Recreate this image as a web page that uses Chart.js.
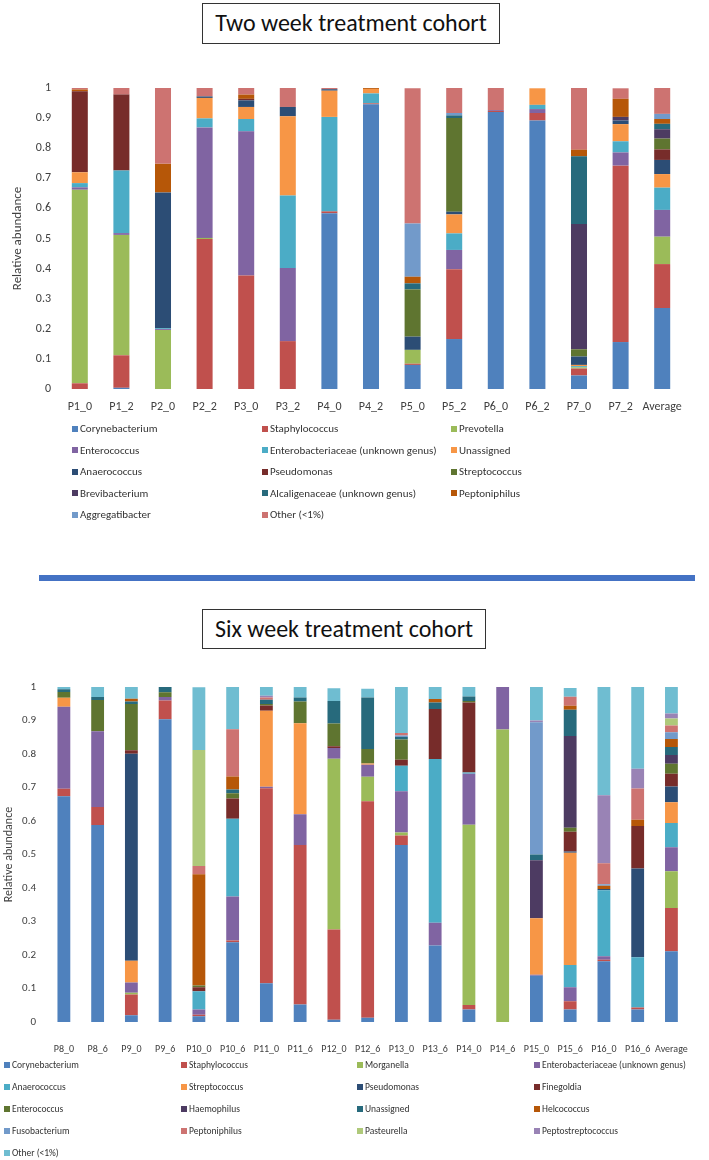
<!DOCTYPE html>
<html>
<head>
<meta charset="utf-8">
<script src="https://cdn.jsdelivr.net/npm/chart.js@4.4.1/dist/chart.umd.min.js"></script>
<style>
    body { margin: 0; background: #fff; font-family: Carlito, Lato, "Open Sans", sans-serif; }
    #page { position: relative; width: 709px; height: 1160px; overflow: hidden; }
    .title-box { position: absolute; border: 1.5px solid #333; font-size: 24px; color: #111; box-sizing: border-box; text-align: center; }
    .chart-box { position: absolute; left: 0; width: 709px; }
    .legend { position: absolute; display: grid; color: #333; }
    .legend div { white-space: nowrap; display: flex; align-items: center; }
    .legend span { display: inline-block; flex: 0 0 6px; width: 6px; height: 6px; margin-right: 2px; }
    #divider { position: absolute; left: 39px; width: 656px; top: 575px; height: 6px; background: #4472C4; }
</style>
</head>
<body>
<div id="page">
    <div class="title-box" style="left:202px; top:3px; width:298px; height:41px; line-height:38px;">Two week treatment cohort</div>
    <div class="chart-box" style="top:60px; height:360px;"><canvas id="twoWeekChart"></canvas></div>
    <div class="legend" id="twoWeekLegend" style="left:72px; top:418px; grid-template-columns:190px 189px 200px; grid-auto-rows:21.5px; font-size:11px;"></div>

    <div id="divider"></div>

    <div class="title-box" style="left:202px; top:609px; width:284px; height:40px; line-height:37px;">Six week treatment cohort</div>
    <div class="chart-box" style="top:660px; height:400px;"><canvas id="sixWeekChart"></canvas></div>
    <div class="legend" id="sixWeekLegend" style="left:4px; top:1054px; grid-template-columns:177px 176px 177px 180px; grid-auto-rows:22px; font-size:9.5px;"></div>
</div>

<script>
// two week cohort
const twoWeekLabels = ['P1_0', 'P1_2', 'P2_0', 'P2_2', 'P3_0', 'P3_2', 'P4_0', 'P4_2', 'P5_0', 'P5_2', 'P6_0', 'P6_2', 'P7_0', 'P7_2', 'Average'];

const tw_corynebacterium   = [0, 0.004, 0, 0, 0, 0, 0.584, 0.946, 0.080, 0.166, 0.920, 0.892, 0.045, 0.156, 0.269];
const tw_staphylococcus    = [0.019, 0.108, 0, 0.498, 0.377, 0.159, 0.006, 0.003, 0.004, 0.232, 0.004, 0.025, 0.023, 0.586, 0.146];
const tw_prevotella        = [0.643, 0.400, 0.196, 0.004, 0, 0, 0, 0, 0.046, 0, 0, 0, 0.004, 0, 0.091];
const tw_enterococcus      = [0.008, 0.006, 0.003, 0.367, 0.479, 0.243, 0, 0, 0, 0.064, 0.003, 0.013, 0, 0.044, 0.089];
const tw_enterobacteriaceae = [0.014, 0.208, 0.003, 0.030, 0.041, 0.241, 0.314, 0.033, 0, 0.055, 0, 0.014, 0.004, 0.037, 0.074];
const tw_unassigned        = [0.036, 0, 0, 0.068, 0.040, 0.263, 0.087, 0.015, 0, 0.063, 0, 0.055, 0.004, 0.057, 0.045];
const tw_anaerococcus      = [0, 0, 0.451, 0.005, 0.022, 0.031, 0.005, 0, 0.044, 0.009, 0, 0, 0.028, 0.012, 0.047];
const tw_pseudomonas       = [0.269, 0.252, 0, 0, 0.005, 0, 0, 0, 0, 0, 0, 0, 0, 0, 0.035];
const tw_streptococcus     = [0, 0, 0, 0, 0, 0, 0, 0, 0.157, 0.311, 0, 0, 0.024, 0, 0.036];
const tw_brevibacterium    = [0, 0, 0, 0, 0, 0, 0, 0, 0, 0, 0, 0, 0.416, 0.012, 0.031];
const tw_alcaligenaceae    = [0, 0, 0, 0, 0, 0, 0, 0, 0.020, 0.009, 0, 0, 0.225, 0, 0.018];
const tw_peptoniphilus     = [0.006, 0, 0.095, 0, 0.014, 0, 0, 0.003, 0.022, 0, 0, 0, 0.022, 0.060, 0.016];
const tw_aggregatibacter   = [0, 0, 0, 0, 0, 0, 0, 0, 0.177, 0.008, 0, 0, 0, 0, 0.017];
const tw_other             = [0.005, 0.022, 0.252, 0.028, 0.022, 0.063, 0.004, 0.003, 0.449, 0.083, 0.073, 0, 0.205, 0.035, 0.086];

// six week cohort
const sixWeekLabels = ['P8_0', 'P8_6', 'P9_0', 'P9_6', 'P10_0', 'P10_6', 'P11_0', 'P11_6', 'P12_0', 'P12_6', 'P13_0', 'P13_6', 'P14_0', 'P14_6', 'P15_0', 'P15_6', 'P16_0', 'P16_6', 'Average'];

const sw_corynebacterium   = [0.674, 0.588, 0.020, 0.904, 0.017, 0.238, 0.116, 0.052, 0.007, 0.013, 0.528, 0.228, 0.037, 0, 0.138, 0.037, 0.181, 0.037, 0.211];
const sw_staphylococcus    = [0.022, 0.054, 0.062, 0.056, 0.005, 0.005, 0.582, 0.476, 0.269, 0.646, 0.029, 0, 0.014, 0, 0, 0.025, 0.005, 0.006, 0.129];
const sw_morganella        = [0, 0, 0.005, 0, 0, 0, 0, 0, 0.510, 0.073, 0.009, 0, 0.538, 0.873, 0, 0, 0, 0, 0.110];
const sw_enterobacteriaceae = [0.245, 0.226, 0.031, 0.010, 0.015, 0.132, 0.004, 0.092, 0.032, 0.036, 0.123, 0.068, 0.152, 0.127, 0.003, 0.042, 0.010, 0, 0.072];
const sw_anaerococcus      = [0, 0, 0, 0, 0.055, 0.232, 0, 0, 0, 0, 0.076, 0.489, 0.004, 0, 0, 0.066, 0.197, 0.150, 0.072];
const sw_streptococcus     = [0.027, 0, 0.065, 0, 0, 0, 0.227, 0.272, 0, 0.004, 0, 0, 0, 0, 0.169, 0.335, 0, 0, 0.062];
const sw_pseudomonas       = [0, 0, 0.618, 0, 0, 0, 0, 0, 0, 0, 0, 0, 0, 0, 0, 0.004, 0.004, 0.265, 0.047];
const sw_finegoldia        = [0, 0, 0.010, 0, 0.012, 0.060, 0.016, 0, 0.005, 0, 0.018, 0.149, 0.209, 0, 0, 0.059, 0, 0.127, 0.038];
const sw_enterococcus      = [0.017, 0.093, 0.138, 0.014, 0.005, 0.016, 0.004, 0.065, 0.068, 0.043, 0.060, 0, 0.004, 0, 0, 0.012, 0, 0, 0.030];
const sw_haemophilus       = [0, 0, 0, 0, 0, 0, 0, 0, 0, 0, 0, 0, 0, 0, 0.173, 0.274, 0, 0, 0.026];
const sw_unassigned        = [0.008, 0.009, 0.008, 0.016, 0, 0.011, 0.013, 0.012, 0.067, 0.154, 0.008, 0.020, 0.014, 0, 0.017, 0.078, 0, 0, 0.024];
const sw_helcococcus       = [0, 0, 0.008, 0, 0.332, 0.039, 0, 0, 0, 0, 0, 0.010, 0, 0, 0, 0.012, 0.010, 0.019, 0.024];
const sw_fusobacterium     = [0, 0, 0, 0, 0, 0, 0, 0, 0, 0, 0.004, 0, 0, 0, 0.395, 0, 0.004, 0, 0.020];
const sw_peptoniphilus     = [0, 0, 0, 0, 0.025, 0.141, 0.007, 0, 0, 0, 0.008, 0, 0, 0, 0, 0.027, 0.063, 0.093, 0.020];
const sw_pasteurella       = [0, 0, 0, 0, 0.346, 0, 0, 0, 0, 0, 0, 0, 0, 0, 0, 0, 0, 0, 0.021];
const sw_peptostreptococcus = [0, 0, 0, 0, 0, 0, 0.005, 0, 0, 0, 0, 0, 0, 0, 0.005, 0, 0.203, 0.059, 0.015];
const sw_other             = [0.008, 0.031, 0.035, 0, 0.187, 0.126, 0.026, 0.031, 0.038, 0.026, 0.137, 0.036, 0.028, 0, 0.100, 0.026, 0.323, 0.244, 0.080];

// excel 2010 palette
const palette = ['#4F81BD', '#C0504D', '#9BBB59', '#8064A2', '#4BACC6', '#F79646',
                 '#2C4D75', '#772C2A', '#5F7530', '#4D3B62', '#276A7C', '#B65708',
                 '#729ACA', '#CD7371', '#AFC97A', '#9983B5', '#6FBDD1'];

const twoWeekSeries = [
    ['Corynebacterium', tw_corynebacterium],
    ['Staphylococcus', tw_staphylococcus],
    ['Prevotella', tw_prevotella],
    ['Enterococcus', tw_enterococcus],
    ['Enterobacteriaceae (unknown genus)', tw_enterobacteriaceae],
    ['Unassigned', tw_unassigned],
    ['Anaerococcus', tw_anaerococcus],
    ['Pseudomonas', tw_pseudomonas],
    ['Streptococcus', tw_streptococcus],
    ['Brevibacterium', tw_brevibacterium],
    ['Alcaligenaceae (unknown genus)', tw_alcaligenaceae],
    ['Peptoniphilus', tw_peptoniphilus],
    ['Aggregatibacter', tw_aggregatibacter],
    ['Other (<1%)', tw_other]
];
const twoWeekColors = palette.slice(0, 14);

const sixWeekSeries = [
    ['Corynebacterium', sw_corynebacterium],
    ['Staphylococcus', sw_staphylococcus],
    ['Morganella', sw_morganella],
    ['Enterobacteriaceae (unknown genus)', sw_enterobacteriaceae],
    ['Anaerococcus', sw_anaerococcus],
    ['Streptococcus', sw_streptococcus],
    ['Pseudomonas', sw_pseudomonas],
    ['Finegoldia', sw_finegoldia],
    ['Enterococcus', sw_enterococcus],
    ['Haemophilus', sw_haemophilus],
    ['Unassigned', sw_unassigned],
    ['Helcococcus', sw_helcococcus],
    ['Fusobacterium', sw_fusobacterium],
    ['Peptoniphilus', sw_peptoniphilus],
    ['Pasteurella', sw_pasteurella],
    ['Peptostreptococcus', sw_peptostreptococcus],
    ['Other (<1%)', sw_other]
];
const sixWeekColors = palette;

const fontFamily = 'Carlito, Lato, "Open Sans", sans-serif';

function buildDatasets(series, colors) {
    return series.map((s, i) => ({
        label: s[0],
        data: s[1],
        backgroundColor: colors[i],
        borderWidth: 0
    }));
}

// html legend, the grid columns match the excel layout
function buildLegend(id, datasets) {
    const box = document.getElementById(id);
    datasets.forEach(ds => {
        const item = document.createElement('div');
        const sw = document.createElement('span');
        sw.style.background = ds.backgroundColor;
        item.appendChild(sw);
        item.appendChild(document.createTextNode(ds.label));
        box.appendChild(item);
    });
}

function makeChart(canvasId, labels, datasets, o) {
    return new Chart(document.getElementById(canvasId), {
        type: 'bar',
        data: { labels: labels, datasets: datasets },
        options: {
            responsive: true,
            maintainAspectRatio: false,
            animation: false,
            layout: { padding: { top: o.top, right: o.right, left: 0, bottom: 0 } },
            datasets: { bar: { categoryPercentage: 1, barPercentage: o.barPct } },
            plugins: {
                legend: { display: false },
                tooltip: { enabled: false }
            },
            scales: {
                x: {
                    stacked: true,
                    grid: { display: false, drawTicks: false },
                    border: { display: false },
                    ticks: { color: '#404040', font: { family: fontFamily, size: o.xFont }, padding: o.xPad, maxRotation: 0, autoSkip: false },
                    afterFit: s => { s.height = o.xHeight; }
                },
                y: {
                    stacked: true,
                    min: 0,
                    max: 1,
                    grid: { display: false, drawTicks: false },
                    border: { display: false },
                    ticks: { stepSize: 0.1, color: '#404040', font: { family: fontFamily, size: o.yFont }, padding: o.yPad,
                             callback: v => Math.round(v * 10) / 10 },
                    title: { display: true, text: 'Relative abundance', color: '#404040',
                             font: { family: fontFamily, size: o.titleFont }, padding: { top: o.titlePad, bottom: 0 } },
                    afterFit: s => { s.width = o.yWidth; }
                }
            }
        }
    });
}

document.addEventListener('DOMContentLoaded', () => {
    const twoDs = buildDatasets(twoWeekSeries, twoWeekColors);
    makeChart('twoWeekChart', twoWeekLabels, twoDs, {
        top: 28, right: 26, barPct: 0.385, xFont: 12, xPad: 11, xHeight: 31,
        yFont: 12, yPad: 8, yWidth: 59, titleFont: 13, titlePad: 10
    });
    buildLegend('twoWeekLegend', twoDs);

    const sixDs = buildDatasets(sixWeekSeries, sixWeekColors);
    makeChart('sixWeekChart', sixWeekLabels, sixDs, {
        top: 27, right: 9, barPct: 0.38, xFont: 10, xPad: 21, xHeight: 38,
        yFont: 11, yPad: 11, yWidth: 47, titleFont: 12, titlePad: 2
    });
    buildLegend('sixWeekLegend', sixDs);
});
</script>
</body>
</html>
